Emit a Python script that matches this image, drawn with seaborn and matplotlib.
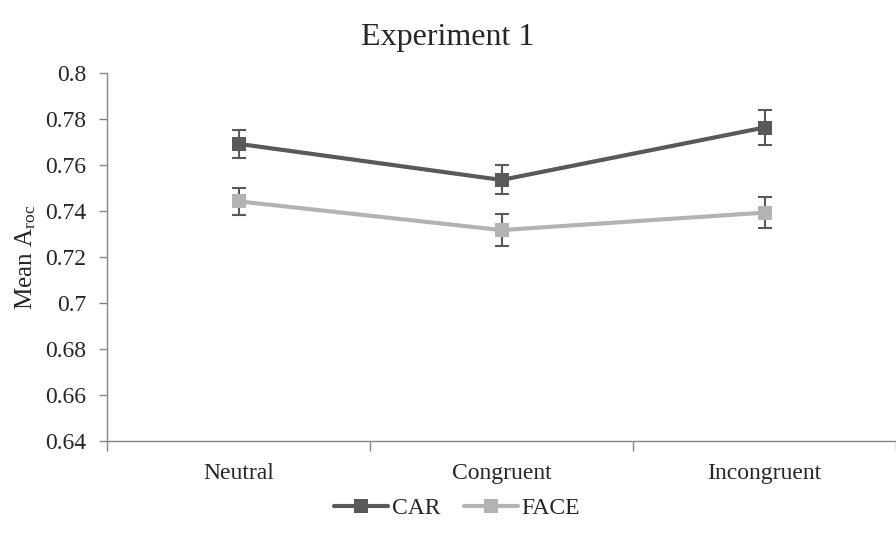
import numpy as np
import pandas as pd
import matplotlib
matplotlib.use("Agg")
import matplotlib.pyplot as plt
import seaborn as sns

conditions = ["Neutral", "Congruent", "Incongruent"]
car_mean = [0.7692, 0.7535, 0.7763]
car_err = [0.0060, 0.0063, 0.0075]
face_mean = [0.7442, 0.7317, 0.7393]
face_err = [0.0058, 0.0070, 0.0068]
y_ticks = [0.64, 0.66, 0.68, 0.7, 0.72, 0.74, 0.76, 0.78, 0.8]
y_tick_labels = ["0.64", "0.66", "0.68", "0.7", "0.72", "0.74", "0.76", "0.78", "0.8"]

sns.set_style("white")
plt.rcParams["font.family"] = ["Liberation Serif", "DejaVu Serif"]
plt.rcParams["mathtext.fontset"] = "custom"
plt.rcParams["mathtext.rm"] = "Liberation Serif"
plt.rcParams["mathtext.it"] = "Liberation Serif:italic"

pos = np.arange(len(conditions))
df = pd.DataFrame({
    "pos": np.concatenate([pos, pos]),
    "value": car_mean + face_mean,
    "stimulus": ["CAR"] * 3 + ["FACE"] * 3,
})

colors = {"CAR": "#595959", "FACE": "#b3b3b3"}
axis_col = "#868686"

fig = plt.figure(figsize=(8.96, 5.37), dpi=100)
ax = fig.add_axes([107 / 896, 1 - 441 / 537, 1 - 107 / 896, (441 - 73) / 537])

# error bars under the lines
ax.errorbar(pos, car_mean, yerr=car_err, fmt="none", ecolor="#595959",
            capsize=5, elinewidth=1.5, capthick=1.5, zorder=1.5)
ax.errorbar(pos, face_mean, yerr=face_err, fmt="none", ecolor="#595959",
            capsize=5, elinewidth=1.5, capthick=1.5, zorder=1.5)

sns.lineplot(data=df, x="pos", y="value", hue="stimulus", palette=colors,
             marker="s", markersize=10, markeredgewidth=0, linewidth=3,
             ax=ax, legend=False)

ax.set_xlim(-0.5, 2.5)
ax.set_ylim(0.64, 0.8)
ax.set_yticks(y_ticks)
ax.set_yticklabels(y_tick_labels, fontsize=17)

ax.set_xticks([-0.5, 0.5, 1.5, 2.5])
ax.set_xticklabels([])
ax.set_xticks(pos, minor=True)
ax.set_xticklabels(conditions, minor=True, fontsize=17)
ax.tick_params(axis="x", which="major", length=7, width=1, color=axis_col, direction="out", bottom=True)
ax.tick_params(axis="x", which="minor", length=0, pad=16)
ax.tick_params(axis="y", length=6, width=1, color=axis_col, direction="out", left=True, pad=9)

ax.set_xlabel("")
ax.set_ylabel(r"Mean A$_{\mathrm{roc}}$", fontsize=18, labelpad=5)

for s in ["top", "right"]:
    ax.spines[s].set_visible(False)
for s in ["left", "bottom"]:
    ax.spines[s].set_color(axis_col)
    ax.spines[s].set_linewidth(1)

fig.text(0.5, 1 - 37 / 537, "Experiment 1", ha="center", va="center", fontsize=23)

handles = [
    plt.Line2D([], [], color=colors["CAR"], lw=3, marker="s", markersize=10, markeredgewidth=0),
    plt.Line2D([], [], color=colors["FACE"], lw=3, marker="s", markersize=10, markeredgewidth=0),
]
fig.legend(handles, ["CAR", "FACE"], loc="center", bbox_to_anchor=(0.51, 1 - 508 / 537),
           ncol=2, frameon=False, fontsize=17, handlelength=2.3, handletextpad=0.15,
           columnspacing=1.0)

fig.savefig("out.png", dpi=100)
